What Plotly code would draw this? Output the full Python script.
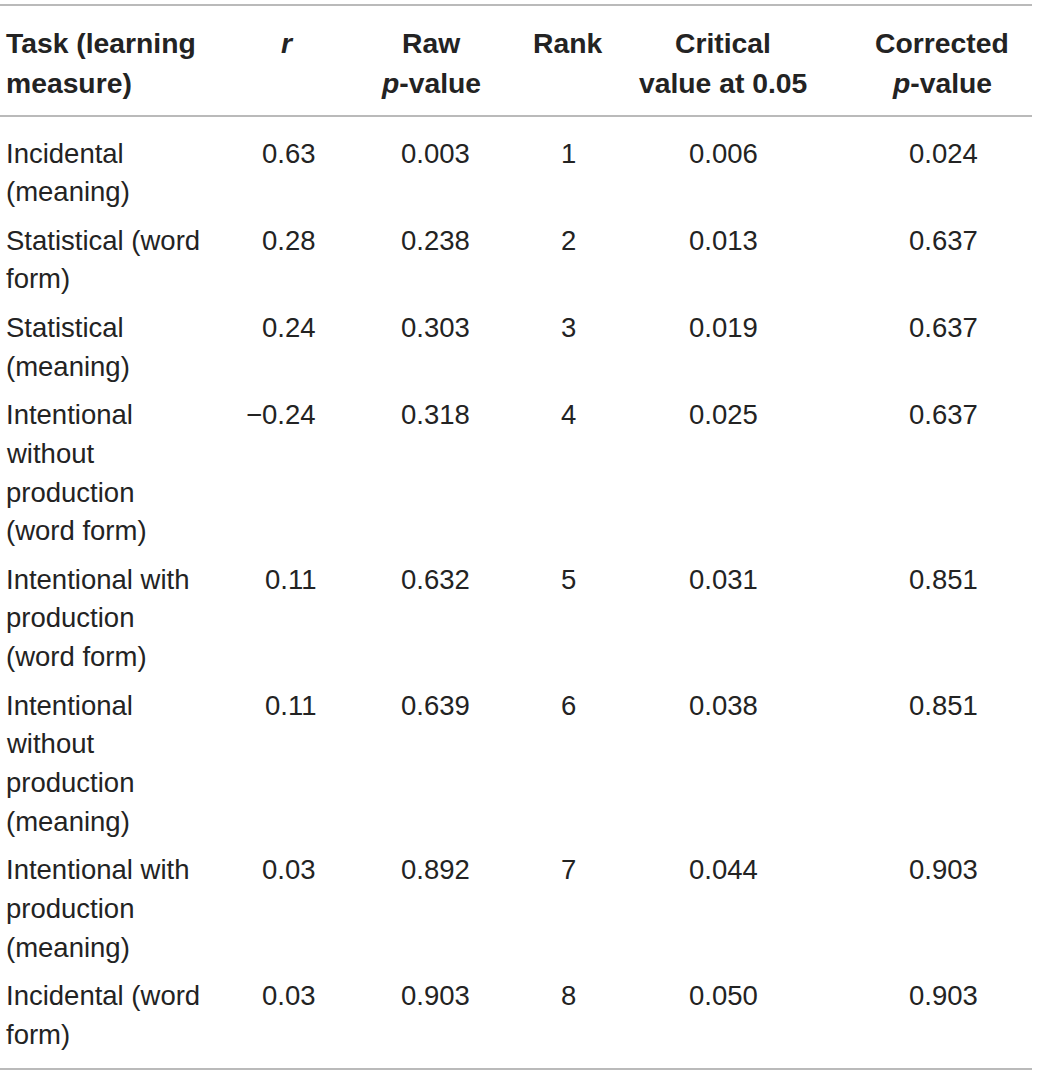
import plotly.graph_objects as go

# table contents
tasks = [
    "Incidental<br>(meaning)",
    "Statistical (word<br>form)",
    "Statistical<br>(meaning)",
    "Intentional<br>without<br>production<br>(word form)",
    "Intentional with<br>production<br>(word form)",
    "Intentional<br>without<br>production<br>(meaning)",
    "Intentional with<br>production<br>(meaning)",
    "Incidental (word<br>form)",
]
r_vals = ["0.63", "0.28", "0.24", "\u22120.24", "0.11", "0.11", "0.03", "0.03"]
raw_p = ["0.003", "0.238", "0.303", "0.318", "0.632", "0.639", "0.892", "0.903"]
ranks = ["1", "2", "3", "4", "5", "6", "7", "8"]
critical = ["0.006", "0.013", "0.019", "0.025", "0.031", "0.038", "0.044", "0.050"]
corrected_p = ["0.024", "0.637", "0.637", "0.637", "0.851", "0.851", "0.903", "0.903"]

headers = [
    "Task (learning<br>measure)",
    "<i>r</i>",
    "Raw<br><i>p</i>-value",
    "Rank",
    "Critical<br>value at 0.05",
    "Corrected<br><i>p</i>-value",
]

W, H = 1039, 1077
FONT = "Liberation Sans, Arial, Helvetica, sans-serif"
SIZE = 27.5
HEAD_SIZE = 28.3
TXT = "#232323"
RULE = "#a3a3a3"

# column anchors: (x, xanchor) for header and body
head_cols = [(4, "left"), (287, "center"), (431, "center"), (567, "center"), (723, "center"), (942, "center")]
body_cols = [(4, "left"), (318, "right"), (435, "center"), (568, "center"), (723, "center"), (943, "center")]

LINE = 38.7
GAP = 9.8
HEAD_LINE = 40

fig = go.Figure()
annotations = []


def add_lines(text, x, xanchor, y0, step, bold=False):
    for i, part in enumerate(text.split("<br>")):
        if bold:
            part = "<b>" + part + "</b>"
        annotations.append(dict(
            x=x, y=y0 + i * step, xref="x", yref="y",
            text=part, showarrow=False, xanchor=xanchor, yanchor="middle",
            font=dict(family=FONT, size=HEAD_SIZE if bold else SIZE, color=TXT),
        ))


for (x, anc), h in zip(head_cols, headers):
    add_lines(h, x, anc, 43, HEAD_LINE, bold=True)

columns = [tasks, r_vals, raw_p, ranks, critical, corrected_p]
y = 153
for i in range(len(tasks)):
    for (x, anc), col in zip(body_cols, columns):
        add_lines(col[i], x, anc, y, LINE)
    y += len(tasks[i].split("<br>")) * LINE + GAP

rules = [5, 116, 1069]
for ry in rules:
    fig.add_shape(type="line", x0=0, x1=1032, y0=ry, y1=ry, xref="x", yref="y",
                  line=dict(color=RULE, width=1.5))

fig.update_layout(
    width=W, height=H,
    margin=dict(l=0, r=0, t=0, b=0),
    paper_bgcolor="white", plot_bgcolor="white",
    xaxis=dict(range=[0, W], visible=False, fixedrange=True),
    yaxis=dict(range=[H, 0], visible=False, fixedrange=True),
    annotations=annotations,
    showlegend=False,
)

# drop the default page margin so the table sits at the window's corner
fig.write_html("out.html", config={"displayModeBar": False},
               post_script="document.body.style.margin='0';")
